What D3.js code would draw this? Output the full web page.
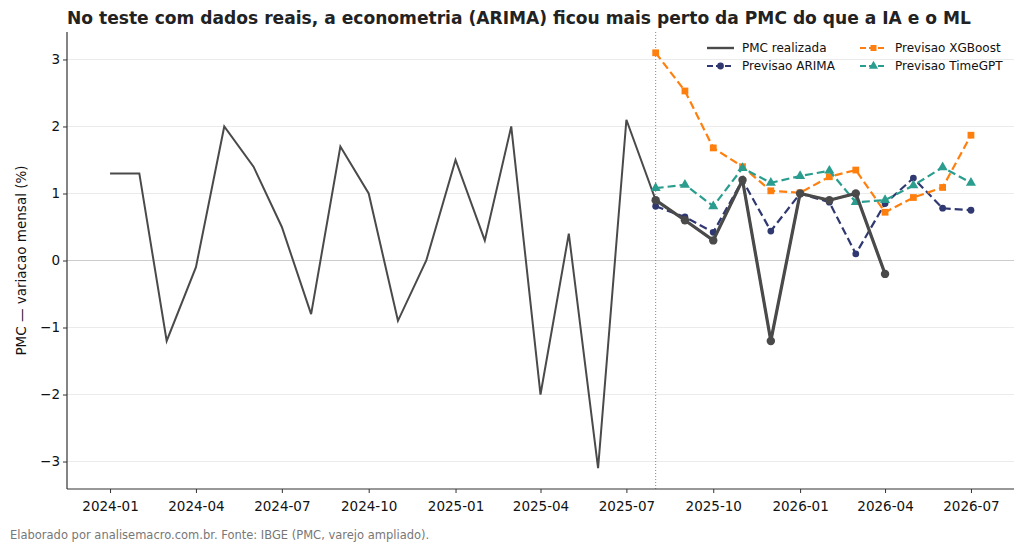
<!DOCTYPE html>
<html><head><meta charset="utf-8">
<script src="https://cdn.jsdelivr.net/npm/d3@7"></script>
<style>body{margin:0;background:#fff}svg{display:block}</style>
</head><body><svg id="c" width="1024" height="552"></svg>
<script>
const histMonths = ["2024-01","2024-02","2024-03","2024-04","2024-05","2024-06","2024-07","2024-08","2024-09","2024-10","2024-11","2024-12","2025-01","2025-02","2025-03","2025-04","2025-05","2025-06","2025-07","2025-08","2025-09","2025-10","2025-11","2025-12","2026-01","2026-02","2026-03","2026-04"];
const histValues = [1.3,1.3,-1.2,-0.1,2.0,1.4,0.5,-0.8,1.7,1.0,-0.9,0.0,1.5,0.3,2.0,-2.0,0.4,-3.1,2.1,0.9,0.6,0.3,1.2,-1.2,1.0,0.9,1.0,-0.2];
const testMonths = ["2025-08","2025-09","2025-10","2025-11","2025-12","2026-01","2026-02","2026-03","2026-04"];
const realizedValues = [0.9,0.6,0.3,1.2,-1.2,1.0,0.9,1.0,-0.2];
const fcMonths = ["2025-08","2025-09","2025-10","2025-11","2025-12","2026-01","2026-02","2026-03","2026-04","2026-05","2026-06","2026-07"];
const arimaValues = [0.81,0.65,0.42,1.2,0.44,1.0,0.87,0.1,0.85,1.23,0.78,0.75];
const xgbValues = [3.1,2.53,1.68,1.4,1.04,1.01,1.25,1.35,0.72,0.94,1.09,1.87];
const gptValues = [1.08,1.13,0.81,1.38,1.16,1.26,1.34,0.87,0.9,1.12,1.39,1.16];
const yTicks = [-3,-2,-1,0,1,2,3];
const xTickLabels = ["2024-01","2024-04","2024-07","2024-10","2025-01","2025-04","2025-07","2025-10","2026-01","2026-04","2026-07"];
const testStart = "2025-08";

const parse = d3.timeParse("%Y-%m");
const fmt = d3.timeFormat("%Y-%m");
const svg = d3.select("#c");
const L=67,R=1014,T=32,B=489;
const font = "DejaVu Sans, sans-serif";

const t0 = parse("2024-01"), t1 = parse("2026-07");
const span = t1 - t0;
const x = d3.scaleTime().domain([new Date(+t0 - span*0.05), new Date(+t1 + span*0.05)]).range([L,R]);
const y = d3.scaleLinear().domain([-3.41,3.41]).range([B,T]);

// grid
svg.append("g").selectAll("line").data(yTicks).join("line")
  .attr("x1",L).attr("x2",R).attr("y1",d=>y(d)).attr("y2",d=>y(d))
  .attr("stroke",d=>d===0?"#cccccc":"#ebebeb").attr("stroke-width",1);

// vertical test start
svg.append("line").attr("x1",x(parse(testStart))).attr("x2",x(parse(testStart)))
  .attr("y1",T).attr("y2",B).attr("stroke","#888").attr("stroke-width",1).attr("stroke-dasharray","1,2");

// axes
const xa = svg.append("g").attr("transform",`translate(0,${B})`)
  .call(d3.axisBottom(x).tickValues(xTickLabels.map(parse)).tickFormat(fmt).tickSize(4).tickSizeOuter(0));
const ya = svg.append("g").attr("transform",`translate(${L},0)`)
  .call(d3.axisLeft(y).tickValues(yTicks).tickFormat(d=>d<0?"\u2212"+Math.abs(d):d).tickSize(4).tickSizeOuter(0));
[xa,ya].forEach(a=>{a.select(".domain").attr("stroke","#333").attr("stroke-width",1.2);
  a.selectAll(".tick line").attr("stroke","#333");
  a.selectAll("text").attr("font-family",font).attr("font-size","13.5px").attr("fill","#111");});
xa.selectAll("text").attr("dy","1.1em");
ya.select(".domain").attr("d",`M0,${T}V${B}`);
xa.select(".domain").attr("d",`M${L},0H${R}`);

const line = d3.line().x(d=>x(d[0])).y(d=>y(d[1]));
const colR="#4a4a4a", colA="#2f3870", colX="#ff7f0e", colG="#2a9d8f";

// historic
svg.append("path").datum(histMonths.map((m,i)=>[parse(m),histValues[i]]))
  .attr("d",line).attr("fill","none").attr("stroke",colR).attr("stroke-width",2);

function series(months, vals, color, dash, width, marker, size){
  const data = months.map((m,i)=>[parse(m),vals[i]]);
  svg.append("path").datum(data).attr("d",line).attr("fill","none").attr("stroke",color)
    .attr("stroke-width",width).attr("stroke-dasharray",dash);
  const sym = d3.symbol().type(marker).size(size);
  svg.append("g").selectAll("path").data(data).join("path")
    .attr("transform",d=>`translate(${x(d[0])},${y(d[1])})`).attr("d",sym).attr("fill",color);
}
series(fcMonths, arimaValues, colA, "8,4", 2.2, d3.symbolCircle, 36);
series(fcMonths, xgbValues, colX, "8,4", 2.2, d3.symbolSquare, 46);
series(fcMonths, gptValues, colG, "8,4", 2.2, d3.symbolTriangle, 44);
series(testMonths, realizedValues, colR, null, 3.2, d3.symbolCircle, 56);

// legend
const leg = [
  {n:"PMC realizada",c:colR,d:null,w:2.4,m:null,x:707,y:48},
  {n:"Previsao ARIMA",c:colA,d:"6,3",w:2,m:d3.symbolCircle,x:707,y:66},
  {n:"Previsao XGBoost",c:colX,d:"6,3",w:2,m:d3.symbolSquare,x:860,y:48},
  {n:"Previsao TimeGPT",c:colG,d:"6,3",w:2,m:d3.symbolTriangle,x:860,y:66}];
const lg = svg.append("g");
leg.forEach(e=>{
  lg.append("line").attr("x1",e.x).attr("x2",e.x+27).attr("y1",e.y).attr("y2",e.y)
    .attr("stroke",e.c).attr("stroke-width",e.w).attr("stroke-dasharray",e.d);
  if(e.m) lg.append("path").attr("transform",`translate(${e.x+13.5},${e.y})`).attr("d",d3.symbol().type(e.m).size(36)).attr("fill",e.c);
  lg.append("text").attr("x",e.x+35).attr("y",e.y).attr("dy","0.35em").text(e.n)
    .attr("font-family",font).attr("font-size","12px").attr("fill","#111");
});

// title
svg.append("text").attr("x",L).attr("y",24).text("No teste com dados reais, a econometria (ARIMA) ficou mais perto da PMC do que a IA e o ML")
  .attr("font-family",font).attr("font-weight","bold").attr("font-size","17.1px").attr("fill","#222");
// y label
svg.append("text").attr("transform",`translate(26,${(T+B)/2}) rotate(-90)`).attr("text-anchor","middle")
  .text("PMC \u2014 variacao mensal (%)").attr("font-family",font).attr("font-size","13.5px").attr("fill","#111");
// footer
svg.append("text").attr("x",10).attr("y",539).text("Elaborado por analisemacro.com.br. Fonte: IBGE (PMC, varejo ampliado).")
  .attr("font-family",font).attr("font-size","11.5px").attr("fill","#777");
</script></body></html>
